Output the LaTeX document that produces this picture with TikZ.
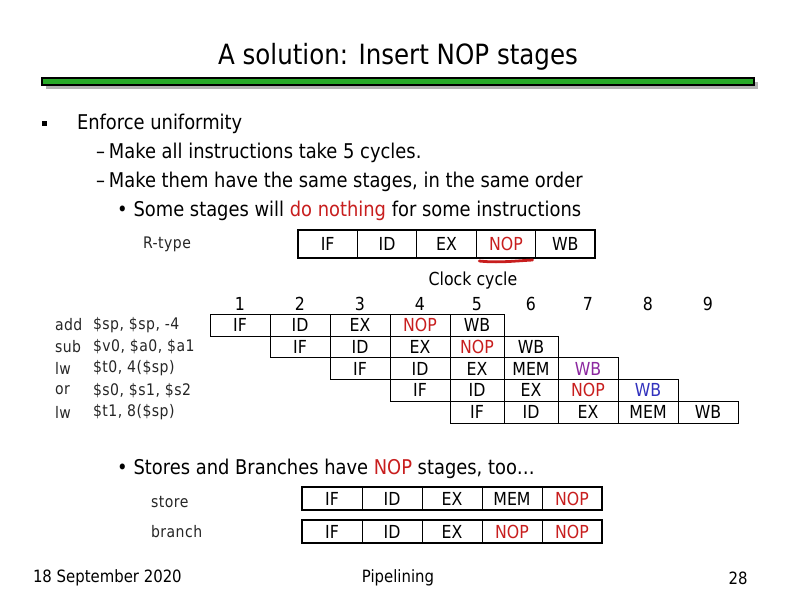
\documentclass[tikz,border=0pt]{standalone}
\usepackage{fontspec}
\setmainfont{DejaVu Sans}[FakeStretch=0.88]
\usetikzlibrary{positioning, calc}
\usepackage{xcolor}
\definecolor{nopRed}{RGB}{200,30,30}
\definecolor{wbPurple}{RGB}{140,40,160}
\definecolor{wbBlue}{RGB}{50,50,190}
\definecolor{barGreen}{RGB}{40,170,40}
\newcommand{\nop}{\textcolor{nopRed}{NOP}}
% column edges of the clock cycle table
\def\coledge{{210,270,330,390,450,504,558,618,678,738}}
\tikzset{
    x=1bp, y=-1bp,
    every node/.style={inner sep=0pt, outer sep=0pt},
    % Text
    titleText/.style={font=\fontsize{28}{31}\selectfont},
    bodyText/.style={anchor=west, font=\fontsize{20.4}{24}\selectfont},
    smallText/.style={anchor=west, font=\fontsize{16}{19}\selectfont\addfontfeature{LetterSpace=3}, text=black!85},
    footText/.style={font=\fontsize{17}{20}\selectfont},
    % Boxes
    stage/.style={draw, line width=0.7pt, minimum height=21.8bp, font=\fontsize{18}{21}\selectfont},
    rowbox/.style={stage, minimum width=59.4bp, minimum height=28bp},
    instbox/.style={stage, minimum width=60bp, minimum height=23bp},
    outline/.style={draw, line width=1.6pt}
}
\begin{document}
\begin{tikzpicture}

\fill[white] (0,0) rectangle (792,612);

% title and bar
\node[titleText] (title) at (398,57) {A solution: Insert NOP stages};
\fill[black!30] (46,82) rectangle (758,89);
\draw[fill=barGreen, line width=1.2pt] (42,78) rectangle (754,85);

% bullets
\node[fill, minimum size=5bp] (sq) at (44,124) {};
\node[bodyText] (uni) at (77,124) {Enforce uniformity};
\node[bodyText] (five) at (96,153) {–\hspace{4bp}Make all instructions take 5 cycles.};
\node[bodyText] (same) at (96,182) {–\hspace{4bp}Make them have the same stages, in the same order};
\node[bodyText] (some) at (117,211) {•\hspace{6bp}Some stages will \textcolor{nopRed}{do nothing} for some instructions};

% R-type
\node[smallText] (rtype) at (143,244) {R-type};
\node[rowbox] (rIF) at (327.7,244) {IF};
\node[rowbox, right=0pt of rIF] (rID) {ID};
\node[rowbox, right=0pt of rID] (rEX) {EX};
\node[rowbox, right=0pt of rEX] (rNOP) {\nop};
\node[rowbox, right=0pt of rNOP] (rWB) {WB};
\draw[outline] (rIF.north west) rectangle (rWB.south east);
\draw[nopRed, line width=2.8pt, line cap=round] ([xshift=3bp,yshift=-3bp]rNOP.south west)
    .. controls +(18,2) and +(-18,1) .. ([xshift=-3bp,yshift=-2bp]rNOP.south east);

% clock cycle table
\node[font=\fontsize{18}{21}\selectfont] (clock) at (473,281) {Clock cycle};
\foreach \n in {1,...,9} {
    \pgfmathsetmacro\xl{\coledge[\n-1]}
    \pgfmathsetmacro\xr{\coledge[\n]}
    \node[font=\fontsize{18}{21}\selectfont] (num\n) at ({(\xl+\xr)/2},304) {\n};
}
\foreach \r/\inst/\args/\list in {
    0/add/{\$sp, \$sp, -4}/{IF,ID,EX,\nop,WB},
    1/sub/{\$v0, \$a0, \$a1}/{IF,ID,EX,\nop,WB},
    2/lw/{\$t0, 4(\$sp)}/{IF,ID,EX,MEM,\textcolor{wbPurple}{WB}},
    3/or/{\$s0, \$s1, \$s2}/{IF,ID,EX,\nop,\textcolor{wbBlue}{WB}},
    4/lw/{\$t1, 8(\$sp)}/{IF,ID,EX,MEM,WB}} {
    \pgfmathsetmacro\yc{325+21.8*\r}
    \node[smallText] (op\r) at (55,\yc) {\inst};
    \node[smallText] (arg\r) at (93,\yc) {\args};
    \foreach \lbl [count=\s from 0] in \list {
        \pgfmathtruncatemacro\c{\r+\s}
        \pgfmathsetmacro\xl{\coledge[\c]}
        \pgfmathsetmacro\xr{\coledge[\c+1]}
        \pgfmathsetmacro\w{\xr-\xl}
        \node[stage, minimum width=\w bp] (cell\r-\s) at ({(\xl+\xr)/2},\yc) {\lbl};
    }
}

% stores and branches
\node[bodyText] (stores) at (117,469) {•\hspace{6bp}Stores and Branches have \nop{} stages, too…};
\node[smallText] (store) at (151,502) {store};
\node[instbox] (sIF) at (332,498.5) {IF};
\node[instbox, right=0pt of sIF] (sID) {ID};
\node[instbox, right=0pt of sID] (sEX) {EX};
\node[instbox, right=0pt of sEX] (sMEM) {MEM};
\node[instbox, right=0pt of sMEM] (sNOP) {\nop};
\draw[outline] (sIF.north west) rectangle (sNOP.south east);

\node[smallText] (branch) at (151,532) {branch};
\node[instbox] (bIF) at (332,531.5) {IF};
\node[instbox, right=0pt of bIF] (bID) {ID};
\node[instbox, right=0pt of bID] (bEX) {EX};
\node[instbox, right=0pt of bEX] (bNOP) {\nop};
\node[instbox, right=0pt of bNOP] (bNOP2) {\nop};
\draw[outline] (bIF.north west) rectangle (bNOP2.south east);

% footer
\node[footText, anchor=west] (date) at (33,578) {18 September 2020};
\node[footText] (topic) at (398,578) {Pipelining};
\node[footText] (page) at (738,578) {28};

\end{tikzpicture}
\end{document}
